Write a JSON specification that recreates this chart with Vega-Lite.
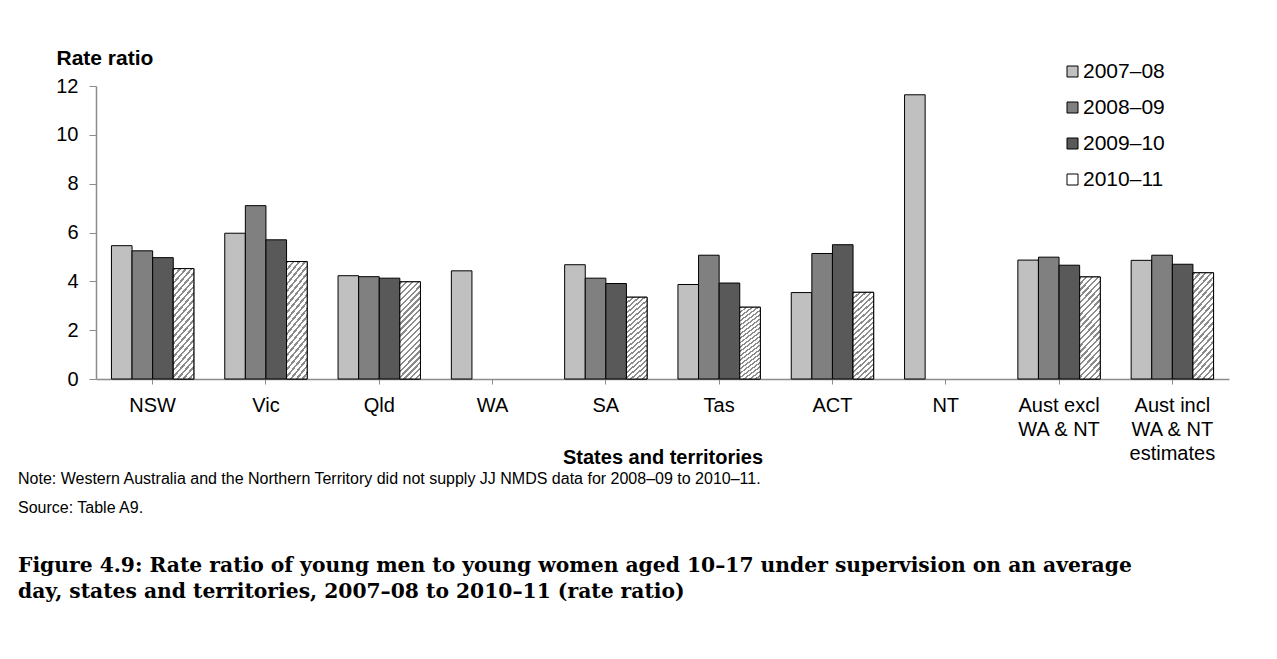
{
  "$schema": "https://vega.github.io/schema/vega-lite/v6.json",
  "width": 1133,
  "height": 293,
  "autosize": {"type": "none"},
  "padding": {"left": 96, "top": 86, "right": 48, "bottom": 280},
  "background": "white",
  "title": {
    "text": ["Note:  Western Australia and the Northern Territory did not supply JJ NMDS data for 2008–09 to 2010–11.", "Source: Table A9."],
    "subtitle": ["Figure 4.9: Rate ratio of young men to young women aged 10–17 under supervision on an average", "day, states and territories, 2007–08 to 2010–11 (rate ratio)"],
    "orient": "bottom",
    "anchor": "start",
    "frame": "group",
    "dx": -78,
    "offset": 4,
    "font": "Liberation Sans",
    "fontSize": 16,
    "fontWeight": "normal",
    "color": "black",
    "lineHeight": 29,
    "subtitleFont": "DejaVu Serif",
    "subtitleFontSize": 20.3,
    "subtitleFontWeight": "bold",
    "subtitleColor": "black",
    "subtitleLineHeight": 26,
    "subtitlePadding": 40
  },
  "data": {
    "values": [
      {"region": "NSW", "year": "2007–08", "value": 5.46},
      {"region": "NSW", "year": "2008–09", "value": 5.25},
      {"region": "NSW", "year": "2009–10", "value": 4.97},
      {"region": "NSW", "year": "2010–11", "value": 4.52},
      {"region": "Vic", "year": "2007–08", "value": 5.97},
      {"region": "Vic", "year": "2008–09", "value": 7.10},
      {"region": "Vic", "year": "2009–10", "value": 5.70},
      {"region": "Vic", "year": "2010–11", "value": 4.81},
      {"region": "Qld", "year": "2007–08", "value": 4.23},
      {"region": "Qld", "year": "2008–09", "value": 4.19},
      {"region": "Qld", "year": "2009–10", "value": 4.13},
      {"region": "Qld", "year": "2010–11", "value": 3.98},
      {"region": "WA", "year": "2007–08", "value": 4.43},
      {"region": "SA", "year": "2007–08", "value": 4.68},
      {"region": "SA", "year": "2008–09", "value": 4.13},
      {"region": "SA", "year": "2009–10", "value": 3.91},
      {"region": "SA", "year": "2010–11", "value": 3.35},
      {"region": "Tas", "year": "2007–08", "value": 3.87},
      {"region": "Tas", "year": "2008–09", "value": 5.07},
      {"region": "Tas", "year": "2009–10", "value": 3.93},
      {"region": "Tas", "year": "2010–11", "value": 2.94},
      {"region": "ACT", "year": "2007–08", "value": 3.54},
      {"region": "ACT", "year": "2008–09", "value": 5.14},
      {"region": "ACT", "year": "2009–10", "value": 5.50},
      {"region": "ACT", "year": "2010–11", "value": 3.55},
      {"region": "NT", "year": "2007–08", "value": 11.64},
      {"region": "Aust excl WA & NT", "year": "2007–08", "value": 4.87},
      {"region": "Aust excl WA & NT", "year": "2008–09", "value": 4.99},
      {"region": "Aust excl WA & NT", "year": "2009–10", "value": 4.66},
      {"region": "Aust excl WA & NT", "year": "2010–11", "value": 4.18},
      {"region": "Aust incl WA & NT estimates", "year": "2007–08", "value": 4.86},
      {"region": "Aust incl WA & NT estimates", "year": "2008–09", "value": 5.07},
      {"region": "Aust incl WA & NT estimates", "year": "2009–10", "value": 4.70},
      {"region": "Aust incl WA & NT estimates", "year": "2010–11", "value": 4.35}
    ]
  },
  "encoding": {
    "x": {
      "field": "region",
      "type": "nominal",
      "sort": ["NSW", "Vic", "Qld", "WA", "SA", "Tas", "ACT", "NT", "Aust excl WA & NT", "Aust incl WA & NT estimates"],
      "scale": {"paddingInner": 0, "paddingOuter": 0},
      "axis": {
        "title": "States and territories",
        "titleFont": "Liberation Sans",
        "titleFontSize": 20,
        "titleFontWeight": "bold",
        "titleColor": "black",
        "titleBaseline": "middle",
        "titleY": 78,
        "labelAngle": 0,
        "labelFont": "Liberation Sans",
        "labelFontSize": 20,
        "labelColor": "black",
        "labelLineHeight": 24,
        "labelPadding": 11,
        "labelExpr": "datum.value == 'Aust excl WA & NT' ? ['Aust excl', 'WA & NT'] : datum.value == 'Aust incl WA & NT estimates' ? ['Aust incl', 'WA & NT', 'estimates'] : datum.value",
        "tickSize": 5,
        "tickColor": "#8c8c8c",
        "domainColor": "#8c8c8c",
        "domainWidth": 1.5,
        "grid": false
      }
    },
    "xOffset": {
      "field": "year",
      "type": "nominal",
      "sort": ["2007–08", "2008–09", "2009–10", "2010–11"],
      "scale": {"domain": ["2007–08", "2008–09", "2009–10", "2010–11"], "paddingInner": 0, "paddingOuter": 0.75}
    },
    "y": {
      "field": "value",
      "type": "quantitative",
      "scale": {"domain": [0, 12], "nice": false},
      "axis": {
        "values": [0, 2, 4, 6, 8, 10, 12],
        "title": "Rate ratio",
        "titleAngle": 0,
        "titleAlign": "left",
        "titleBaseline": "middle",
        "titleX": -40,
        "titleY": -28,
        "titleFont": "Liberation Sans",
        "titleFontSize": 21,
        "titleFontWeight": "bold",
        "titleColor": "black",
        "labelFont": "Liberation Sans",
        "labelFontSize": 20,
        "labelColor": "black",
        "labelPadding": 11,
        "tickSize": 7,
        "tickColor": "#8c8c8c",
        "domainColor": "#8c8c8c",
        "domainWidth": 1.5,
        "grid": false
      }
    }
  },
  "layer": [
    {
      "mark": {"type": "bar", "stroke": "black", "strokeWidth": 1},
      "encoding": {
        "fill": {
          "field": "year",
          "type": "nominal",
          "sort": ["2007–08", "2008–09", "2009–10", "2010–11"],
          "scale": {
            "domain": ["2007–08", "2008–09", "2009–10", "2010–11"],
            "range": ["#c0c0c0", "#808080", "#595959", "#ffffff"]
          },
          "legend": {
            "title": null,
            "orient": "none",
            "legendX": 966,
            "legendY": -25,
            "direction": "vertical",
            "symbolType": "square",
            "symbolSize": 121,
            "symbolStrokeColor": "black",
            "symbolStrokeWidth": 1,
            "symbolOpacity": 1,
            "labelFont": "Liberation Sans",
            "labelFontSize": 21,
            "labelColor": "black",
            "labelOffset": 0,
            "rowPadding": 14
          }
        }
      }
    },
    {
      "transform": [{"filter": "datum.year == '2010–11'"}],
      "mark": {
        "type": "bar",
        "stroke": "black",
        "strokeWidth": 1,
        "fill": {
          "gradient": "linear",
          "x1": 0, "y1": 0, "x2": 0.25, "y2": 1.16,
          "stops": [
            {"offset": 0.00, "color": "#8c8c8c"}, {"offset": 0.02, "color": "#8c8c8c"}, {"offset": 0.02, "color": "#ffffff"}, {"offset": 0.05, "color": "#ffffff"},
            {"offset": 0.05, "color": "#8c8c8c"}, {"offset": 0.07, "color": "#8c8c8c"}, {"offset": 0.07, "color": "#ffffff"}, {"offset": 0.10, "color": "#ffffff"},
            {"offset": 0.10, "color": "#8c8c8c"}, {"offset": 0.12, "color": "#8c8c8c"}, {"offset": 0.12, "color": "#ffffff"}, {"offset": 0.15, "color": "#ffffff"},
            {"offset": 0.15, "color": "#8c8c8c"}, {"offset": 0.17, "color": "#8c8c8c"}, {"offset": 0.17, "color": "#ffffff"}, {"offset": 0.20, "color": "#ffffff"},
            {"offset": 0.20, "color": "#8c8c8c"}, {"offset": 0.22, "color": "#8c8c8c"}, {"offset": 0.22, "color": "#ffffff"}, {"offset": 0.25, "color": "#ffffff"},
            {"offset": 0.25, "color": "#8c8c8c"}, {"offset": 0.27, "color": "#8c8c8c"}, {"offset": 0.27, "color": "#ffffff"}, {"offset": 0.30, "color": "#ffffff"},
            {"offset": 0.30, "color": "#8c8c8c"}, {"offset": 0.32, "color": "#8c8c8c"}, {"offset": 0.32, "color": "#ffffff"}, {"offset": 0.35, "color": "#ffffff"},
            {"offset": 0.35, "color": "#8c8c8c"}, {"offset": 0.37, "color": "#8c8c8c"}, {"offset": 0.37, "color": "#ffffff"}, {"offset": 0.40, "color": "#ffffff"},
            {"offset": 0.40, "color": "#8c8c8c"}, {"offset": 0.42, "color": "#8c8c8c"}, {"offset": 0.42, "color": "#ffffff"}, {"offset": 0.45, "color": "#ffffff"},
            {"offset": 0.45, "color": "#8c8c8c"}, {"offset": 0.47, "color": "#8c8c8c"}, {"offset": 0.47, "color": "#ffffff"}, {"offset": 0.50, "color": "#ffffff"},
            {"offset": 0.50, "color": "#8c8c8c"}, {"offset": 0.52, "color": "#8c8c8c"}, {"offset": 0.52, "color": "#ffffff"}, {"offset": 0.55, "color": "#ffffff"},
            {"offset": 0.55, "color": "#8c8c8c"}, {"offset": 0.57, "color": "#8c8c8c"}, {"offset": 0.57, "color": "#ffffff"}, {"offset": 0.60, "color": "#ffffff"},
            {"offset": 0.60, "color": "#8c8c8c"}, {"offset": 0.62, "color": "#8c8c8c"}, {"offset": 0.62, "color": "#ffffff"}, {"offset": 0.65, "color": "#ffffff"},
            {"offset": 0.65, "color": "#8c8c8c"}, {"offset": 0.67, "color": "#8c8c8c"}, {"offset": 0.67, "color": "#ffffff"}, {"offset": 0.70, "color": "#ffffff"},
            {"offset": 0.70, "color": "#8c8c8c"}, {"offset": 0.72, "color": "#8c8c8c"}, {"offset": 0.72, "color": "#ffffff"}, {"offset": 0.75, "color": "#ffffff"},
            {"offset": 0.75, "color": "#8c8c8c"}, {"offset": 0.77, "color": "#8c8c8c"}, {"offset": 0.77, "color": "#ffffff"}, {"offset": 0.80, "color": "#ffffff"},
            {"offset": 0.80, "color": "#8c8c8c"}, {"offset": 0.82, "color": "#8c8c8c"}, {"offset": 0.82, "color": "#ffffff"}, {"offset": 0.85, "color": "#ffffff"},
            {"offset": 0.85, "color": "#8c8c8c"}, {"offset": 0.87, "color": "#8c8c8c"}, {"offset": 0.87, "color": "#ffffff"}, {"offset": 0.90, "color": "#ffffff"},
            {"offset": 0.90, "color": "#8c8c8c"}, {"offset": 0.92, "color": "#8c8c8c"}, {"offset": 0.92, "color": "#ffffff"}, {"offset": 0.95, "color": "#ffffff"},
            {"offset": 0.95, "color": "#8c8c8c"}, {"offset": 0.97, "color": "#8c8c8c"}, {"offset": 0.97, "color": "#ffffff"}, {"offset": 1.00, "color": "#ffffff"}
          ]
        }
      }
    }
  ],
  "config": {
    "view": {"stroke": null}
  }
}
